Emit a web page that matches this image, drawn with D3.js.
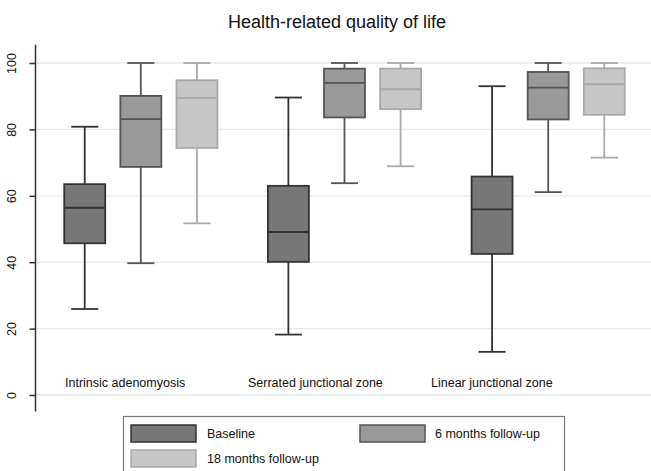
<!DOCTYPE html>
<html>
<head>
<meta charset="utf-8">
<script src="https://cdn.jsdelivr.net/npm/d3@7"></script>
<style>
body { margin: 0; background: #fff; }
text { font-family: "Liberation Sans", Arial, sans-serif; }
</style>
</head>
<body>
<svg id="chart" width="651" height="471"></svg>
<script>
// data
var groups = ["Intrinsic adenomyosis", "Serrated junctional zone", "Linear junctional zone"];
var series = ["Baseline", "6 months follow-up", "18 months follow-up"];
var yTicks = [0, 20, 40, 60, 80, 100];

// [min, q1, median, q3, max] per group
var baseline = [[25.9, 45.7, 56.4, 63.5, 80.8], [18.2, 40.1, 49.1, 63.0, 89.6], [13.0, 42.5, 55.9, 65.8, 93.0]];
var sixMonths = [[39.7, 68.7, 83.1, 90.1, 100], [63.8, 83.6, 94.0, 98.3, 100], [61.1, 83.0, 92.6, 97.3, 100]];
var eighteenMonths = [[51.7, 74.4, 89.5, 94.8, 100], [68.9, 86.1, 92.1, 98.3, 100], [71.5, 84.4, 93.6, 98.4, 100]];

var fills = ["#777777", "#999999", "#c6c6c6"];
var strokes = ["#333333", "#555555", "#a9a9a9"];

var svg = d3.select("#chart");

var y = d3.scaleLinear().domain([0, 100]).range([395, 63]);
var x0 = d3.scaleBand().domain(groups).range([39, 650]);
var x1 = d3.scaleBand().domain(series).range([0, x0.bandwidth()]).paddingInner(0.27).paddingOuter(0.45);

// gridlines
svg.append("g").selectAll("line")
	.data(yTicks)
	.enter()
	.append("line")
	.attr("x1", 36).attr("x2", 651)
	.attr("y1", function(d) { return y(d) })
	.attr("y2", function(d) { return y(d) })
	.style("stroke", "#e3ebeb")
	.style("stroke-width", 1.3);

// y axis
var yAxis = svg.append("g")
	.attr("transform", "translate(35.5,0)")
	.call(d3.axisLeft(y).tickValues(yTicks).tickSize(6).tickSizeOuter(0));
yAxis.select(".domain").attr("d", "M0," + y(-5) + "V" + y(105.5)).style("stroke", "#333").style("stroke-width", 1.5);
yAxis.selectAll(".tick line").style("stroke", "#333").style("stroke-width", 1.5);
yAxis.selectAll(".tick text")
	.attr("x", 0).attr("y", 0).attr("dy", null)
	.attr("transform", "translate(-20,0) rotate(-90)")
	.style("text-anchor", "middle")
	.style("font-size", "12.5px")
	.style("fill", "#111");

// boxes
var allSeries = [baseline, sixMonths, eighteenMonths];
var boxData = [];
allSeries.forEach(function(s, si) {
	s.forEach(function(v, gi) {
		boxData.push({ group: groups[gi], series: series[si], si: si, v: v });
	});
});

var boxes = svg.append("g").selectAll(".box")
	.data(boxData)
	.enter()
	.append("g")
	.attr("transform", function(d) { return "translate(" + (x0(d.group) + x1(d.series)) + ",0)" });

var bw = x1.bandwidth();
var capW = bw * 0.66;

// whisker lines
boxes.append("line")
	.attr("x1", bw / 2).attr("x2", bw / 2)
	.attr("y1", function(d) { return y(d.v[0]) })
	.attr("y2", function(d) { return y(d.v[4]) })
	.style("stroke", function(d) { return strokes[d.si] })
	.style("stroke-width", 1.8);

boxes.selectAll(".cap")
	.data(function(d) { return [{ v: d.v[0], si: d.si }, { v: d.v[4], si: d.si }] })
	.enter()
	.append("line")
	.attr("x1", (bw - capW) / 2).attr("x2", (bw + capW) / 2)
	.attr("y1", function(d) { return y(d.v) })
	.attr("y2", function(d) { return y(d.v) })
	.style("stroke", function(d) { return strokes[d.si] })
	.style("stroke-width", 1.8);

boxes.append("rect")
	.attr("x", 0)
	.attr("width", bw)
	.attr("y", function(d) { return y(d.v[3]) })
	.attr("height", function(d) { return y(d.v[1]) - y(d.v[3]) })
	.style("fill", function(d) { return fills[d.si] })
	.style("stroke", function(d) { return strokes[d.si] })
	.style("stroke-width", 1.8);

boxes.append("line")
	.attr("x1", 0).attr("x2", bw)
	.attr("y1", function(d) { return y(d.v[2]) })
	.attr("y2", function(d) { return y(d.v[2]) })
	.style("stroke", function(d) { return strokes[d.si] })
	.style("stroke-width", 1.8);

// group labels
var labelX = d3.scalePoint().domain(groups).range([65, 431]);
svg.append("g").selectAll("text")
	.data(groups)
	.enter()
	.append("text")
	.attr("x", function(d) { return labelX(d) })
	.attr("y", 387)
	.text(function(d) { return d })
	.style("font-size", "12.5px")
	.style("fill", "#111");

// title
svg.append("text")
	.attr("x", 337).attr("y", 28)
	.attr("text-anchor", "middle")
	.text("Health-related quality of life")
	.style("font-size", "18px")
	.style("fill", "#111");

// legend
svg.append("rect")
	.attr("x", 123.5).attr("y", 416.5)
	.attr("width", 441).attr("height", 70)
	.style("fill", "#fff")
	.style("stroke", "#777")
	.style("stroke-width", 1.2);

var legendPos = [[131, 425], [360, 425], [131, 450]];
var legend = svg.append("g").selectAll("g")
	.data(series)
	.enter()
	.append("g")
	.attr("transform", function(d, i) { return "translate(" + legendPos[i][0] + "," + legendPos[i][1] + ")" });

legend.append("rect")
	.attr("width", 65).attr("height", 17)
	.style("fill", function(d, i) { return fills[i] })
	.style("stroke", function(d, i) { return strokes[i] })
	.style("stroke-width", 1.5);

legend.append("text")
	.attr("x", function(d, i) { return i == 1 ? 75 : 76 })
	.attr("y", 13)
	.text(function(d) { return d })
	.style("font-size", "12.5px")
	.style("fill", "#111");
</script>
</body>
</html>
